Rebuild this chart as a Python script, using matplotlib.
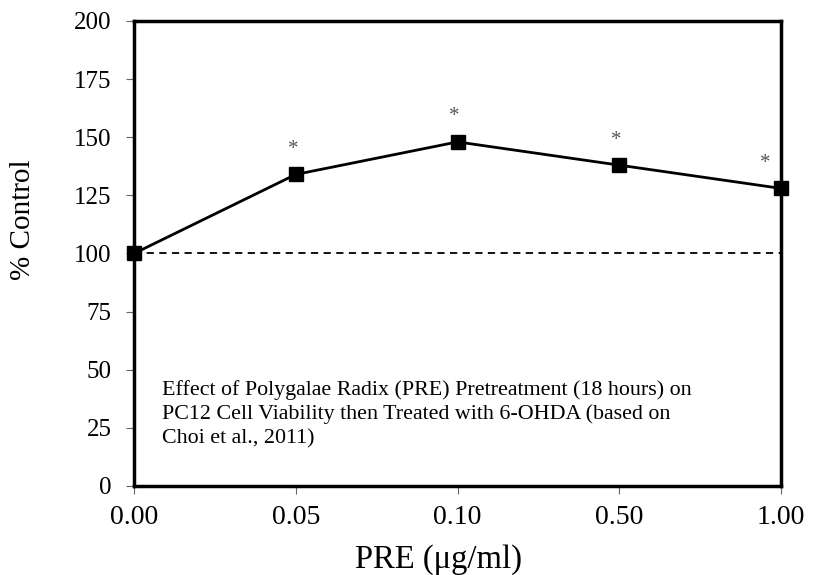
import matplotlib
matplotlib.use('Agg')
import matplotlib.pyplot as plt

# data
doses = ['0.00', '0.05', '0.10', '0.50', '1.00']
viability = [100, 134, 148, 138, 128]
significant = [False, True, True, True, True]
control_level = [100, 100, 100, 100, 100]
y_ticks = [0, 25, 50, 75, 100, 125, 150, 175, 200]

note = ("Effect of Polygalae Radix (PRE) Pretreatment (18 hours) on\n"
        "PC12 Cell Viability then Treated with 6-OHDA (based on\n"
        "Choi et al., 2011)")

plt.rcParams['font.family'] = ['Liberation Serif', 'DejaVu Serif']

fig = plt.figure(figsize=(8.13, 5.75), dpi=100)
ax = fig.add_axes([134 / 813, 1 - 486 / 575, (781 - 134) / 813, (486 - 21) / 575])

xs = list(range(len(doses)))
ax.plot(xs, control_level, color='black', linestyle=(0, (4, 3)), linewidth=1.3, zorder=2)
ax.plot(xs, viability, color='black', linewidth=2, marker='s', markersize=10,
        clip_on=False, zorder=5)

# significance stars
for i, (v, sig) in enumerate(zip(viability, significant)):
    if sig:
        dx = -11 if i == len(doses) - 1 else -2
        ax.annotate('*', (i, v), xytext=(dx, 18), textcoords='offset points',
                    ha='center', va='center', fontsize=15, color='#555555')

ax.set_xlim(0, len(doses) - 1)
ax.set_ylim(0, 200)
ax.set_xticks(xs)
ax.set_xticklabels(doses, fontsize=20)
ax.set_yticks(y_ticks)
ax.set_yticklabels([str(t) for t in y_ticks], fontsize=18)

for s in ax.spines.values():
    s.set_linewidth(2.5)
    s.set_color('black')
ax.tick_params(axis='both', direction='out', length=6, width=0.8, color='#666666')
ax.tick_params(axis='x', pad=8)
ax.tick_params(axis='y', pad=10)

ax.set_xlabel('PRE (\u03bcg/ml)', fontsize=23.5)
ax.set_ylabel('% Control', fontsize=21)
ax.xaxis.set_label_coords(0.471, -0.125)
ax.yaxis.set_label_coords(-0.152, 0.572)

ax.text(0.043, 0.228, note, transform=ax.transAxes, fontsize=15.8,
        ha='left', va='top', linespacing=1.32)

fig.savefig('out.png', dpi=100)
